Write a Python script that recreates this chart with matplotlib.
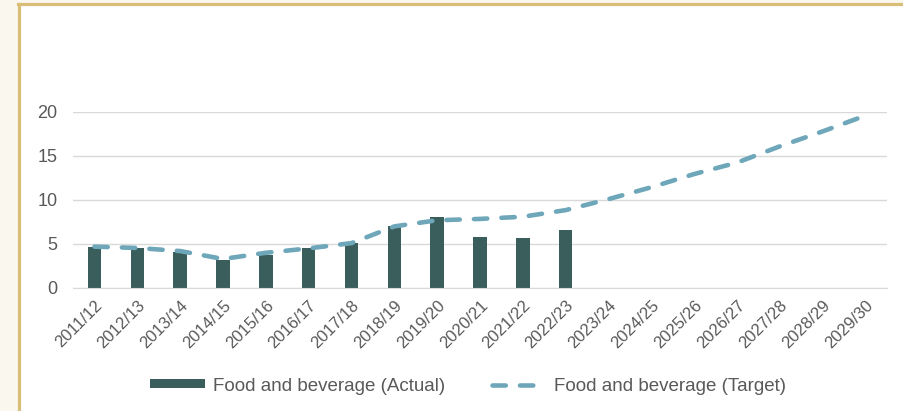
import matplotlib.pyplot as plt
from matplotlib.patches import Rectangle
from matplotlib.lines import Line2D
import numpy as np

plt.rcParams['font.family'] = ['Liberation Sans', 'DejaVu Sans']

# Financial years and values
years = ['2011/12', '2012/13', '2013/14', '2014/15', '2015/16', '2016/17',
         '2017/18', '2018/19', '2019/20', '2020/21', '2021/22', '2022/23',
         '2023/24', '2024/25', '2025/26', '2026/27', '2027/28', '2028/29',
         '2029/30']
actual = [4.7, 4.5, 4.1, 3.2, 3.8, 4.5, 5.1, 7.0, 8.1, 5.8, 5.7, 6.6]
target = [4.7, 4.55, 4.2, 3.3, 4.0, 4.5, 5.1, 7.0, 7.7, 7.85, 8.1, 8.85,
          10.1, 11.45, 12.95, 14.25, 16.1, 17.8, 19.6]

bar_color = '#3A5E5B'
line_color = '#6EA7BA'
text_color = '#595959'
grid_color = '#D9D9D9'

fig = plt.figure(figsize=(9.04, 4.11), dpi=100)
fig.patch.set_facecolor('#FAF7EE')

# white panel with gold edge on the left and top
W, H = 904, 411
fig.patches.append(Rectangle((19 / W, 0), 1 - 19 / W, 1 - 4.5 / H, transform=fig.transFigure,
                             facecolor='white', edgecolor='none', zorder=-2))
fig.lines.append(Line2D([19.5 / W, 19.5 / W], [0, 1 - 4.5 / H], transform=fig.transFigure,
                        color='#D9BE78', linewidth=2.3, zorder=-1))
fig.lines.append(Line2D([18.5 / W, 1], [1 - 4.5 / H, 1 - 4.5 / H], transform=fig.transFigure,
                        color='#D9BE78', linewidth=2.3, zorder=-1))

ax = fig.add_axes([73 / W, (H - 288) / H, (887 - 73) / W, (288 - 112) / H])
ax.set_facecolor('none')

x = np.arange(len(years))
bars = ax.bar(x[:len(actual)], actual, width=0.315, color=bar_color, zorder=2,
              label='Food and beverage (Actual)')
line, = ax.plot(x, target, color=line_color, linewidth=3.3, dashes=(2.9, 3.1),
                dash_capstyle='round', zorder=3, clip_on=False,
                label='Food and beverage (Target)')

ax.set_xlim(-0.5, len(years) - 0.5)
ax.set_ylim(0, 20)
ax.set_yticks([0, 5, 10, 15, 20])
ax.yaxis.grid(True, color=grid_color, linewidth=1)
ax.set_axisbelow(True)
for s in ['top', 'right', 'left']:
    ax.spines[s].set_visible(False)
ax.spines['bottom'].set_color(grid_color)
ax.tick_params(length=0, colors=text_color)
ax.tick_params(axis='y', pad=11, labelsize=13)
ax.set_xticks(x)
ax.set_xticklabels(years, rotation=45, ha='right', rotation_mode='anchor')
ax.tick_params(axis='x', pad=7, labelsize=12)

leg = fig.legend(handles=[bars, line], loc='center', bbox_to_anchor=(0.518, (H - 386) / H),
                 ncol=2, frameon=False, fontsize=13.5, handlelength=2.9, handleheight=0.37,
                 columnspacing=2.5, handletextpad=0.43)
for t in leg.get_texts():
    t.set_color(text_color)

fig.savefig('out.png', dpi=100, facecolor=fig.get_facecolor())
